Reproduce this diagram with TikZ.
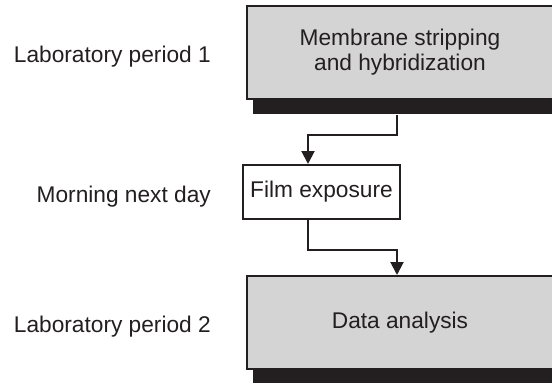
\documentclass[tikz,border=0pt]{standalone}
\usepackage{fontspec}
\setmainfont{Liberation Sans}
\usetikzlibrary{arrows.meta,shadows}
\definecolor{ink}{HTML}{231F20}
\definecolor{boxgray}{HTML}{D4D4D4}
\begin{document}
\begin{tikzpicture}[x=1pt,y=-1pt,
  every node/.style={font=\fontsize{22.7}{25}\selectfont, text=ink},
  label/.style={inner sep=0pt, anchor=base east},
  bigbox/.style={draw=ink, line width=2pt, fill=boxgray, minimum width=306pt, minimum height=93pt, inner sep=0pt, align=center,
    drop shadow={shadow xshift=6pt, shadow yshift=-15pt, fill=ink, opacity=1}},
  smallbox/.style={draw=ink, line width=2pt, fill=white, minimum width=157pt, minimum height=54pt, inner sep=0pt},
  conn/.style={draw=ink, line width=2pt, -{Triangle[width=13pt,length=13pt]}}
]
\clip (0,0) rectangle (552,383);
\fill[white] (0,0) rectangle (552,383);
% labels
\node[label] (l1) at (211,62) {Laboratory period 1};
\node[label] (l2) at (211,202) {Morning next day};
\node[label] (l3) at (211,332) {Laboratory period 2};
% boxes
\node[bigbox] (top) at (400,52.5) {Membrane stripping\\and hybridization};
\node[smallbox] (film) at (321.5,192) {Film exposure};
\node[bigbox] (data) at (400,322.5) {Data analysis};
% connectors
\coordinate (c1) at ([xshift=-3pt,yshift=-15pt]top.south);
\coordinate (c2) at ([xshift=-13.5pt]film.north);
\coordinate (c3) at ([xshift=-13.5pt]film.south);
\coordinate (c4) at ([xshift=-3pt]data.north);
\draw[conn] (c1) -- ++(0,20) -| (c2);
\draw[conn] (c3) -- ++(0,30) -| (c4);
\end{tikzpicture}
\end{document}
